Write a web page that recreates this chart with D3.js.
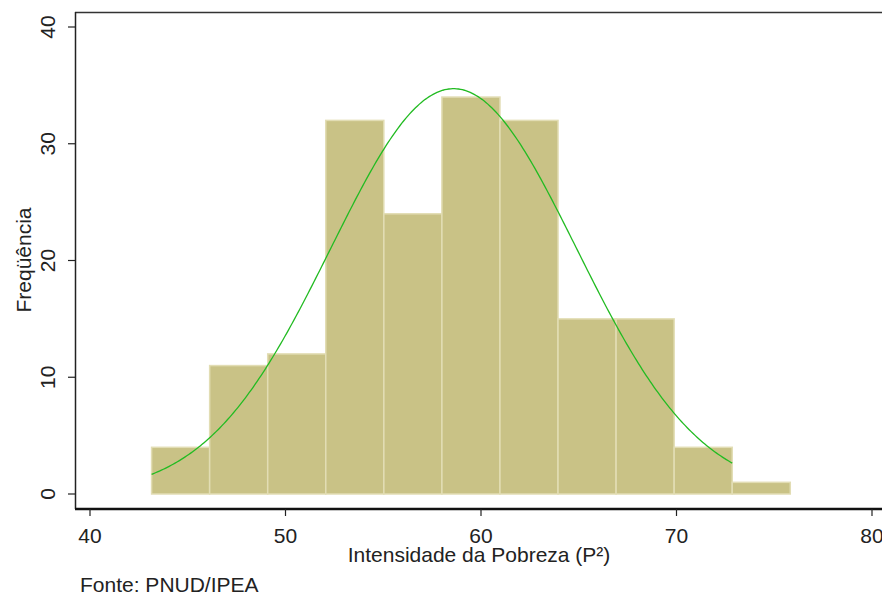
<!DOCTYPE html>
<meta charset="utf-8">
<style>
body { margin: 0; background: #fff; }
text { font-family: "Liberation Sans", Arial, sans-serif; fill: #222; }
</style>
<svg width="882" height="594"></svg>
<script src="https://d3js.org/d3.v7.min.js"></script>
<script>

// histogram bins (lower edge, count)
var binStart = 43.15,
    binWidth = 2.97;
var counts = [4, 11, 12, 32, 24, 34, 32, 15, 15, 4, 1];
var xTicks = [40, 50, 60, 70, 80];
var yTicks = [0, 10, 20, 30, 40];
// fitted normal curve
var normMean = 58.6, normSd = 6.28, normFrom = 43.15, normTo = 72.9;

var svg = d3.select("svg");

var x = d3.scaleLinear().domain([40, 80]).range([90, 872]);
var y = d3.scaleLinear().domain([0, 40]).range([494, 27]);

var bins = counts.map(function(c, i) {
  return { x0: binStart + i * binWidth, x1: binStart + (i + 1) * binWidth, n: c };
});

svg.append("g")
  .selectAll("rect")
  .data(bins)
  .enter().append("rect")
    .attr("x", function(d) { return x(d.x0); })
    .attr("y", function(d) { return y(d.n); })
    .attr("width", function(d) { return x(d.x1) - x(d.x0); })
    .attr("height", function(d) { return y(0) - y(d.n); })
    .attr("fill", "#c9c286")
    .attr("stroke", "#e2ddb4")
    .attr("stroke-width", 1.5);

var total = d3.sum(counts);
var curve = d3.range(normFrom, normTo + 0.001, 0.1).map(function(v) {
  var z = (v - normMean) / normSd;
  return [v, total * binWidth * Math.exp(-z * z / 2) / (normSd * Math.sqrt(2 * Math.PI))];
});

svg.append("path")
  .datum(curve)
  .attr("fill", "none")
  .attr("stroke", "#22bb22")
  .attr("stroke-width", 1.3)
  .attr("d", d3.line()
    .x(function(d) { return x(d[0]); })
    .y(function(d) { return y(d[1]); }));

// frame: top and left
svg.append("line").attr("x1", 75).attr("x2", 882).attr("y1", 12.5).attr("y2", 12.5)
  .attr("stroke", "#333").attr("stroke-width", 1.5);
svg.append("line").attr("x1", 75.5).attr("x2", 75.5).attr("y1", 12).attr("y2", 509)
  .attr("stroke", "#222").attr("stroke-width", 1.5);

// x axis
var xAxis = svg.append("g").attr("transform", "translate(0,509)");
xAxis.append("line").attr("x1", 75).attr("x2", 882).attr("stroke", "#111").attr("stroke-width", 2.5);
xAxis.selectAll(".tick")
  .data(xTicks)
  .enter().append("line")
    .attr("x1", function(d) { return x(d); })
    .attr("x2", function(d) { return x(d); })
    .attr("y1", 0).attr("y2", 7)
    .attr("stroke", "#222").attr("stroke-width", 1.2);
xAxis.selectAll("text")
  .data(xTicks)
  .enter().append("text")
    .attr("x", function(d) { return x(d); })
    .attr("y", 34)
    .attr("text-anchor", "middle")
    .style("font-size", "21px")
    .text(function(d) { return d; });

// y axis
var yAxis = svg.append("g");
yAxis.selectAll("line")
  .data(yTicks)
  .enter().append("line")
    .attr("x1", 68).attr("x2", 75)
    .attr("y1", function(d) { return y(d); })
    .attr("y2", function(d) { return y(d); })
    .attr("stroke", "#222").attr("stroke-width", 1.2);
yAxis.selectAll("text")
  .data(yTicks)
  .enter().append("text")
    .attr("transform", function(d) { return "translate(55," + y(d) + ") rotate(-90)"; })
    .attr("text-anchor", "middle")
    .style("font-size", "21px")
    .text(function(d) { return d; });

svg.append("text")
  .attr("transform", "translate(31,260) rotate(-90)")
  .attr("text-anchor", "middle")
  .style("font-size", "21px")
  .text("Freqüência");

svg.append("text")
  .attr("x", 479).attr("y", 562)
  .attr("text-anchor", "middle")
  .style("font-size", "21px")
  .text("Intensidade da Pobreza (P²)");

svg.append("text")
  .attr("x", 80).attr("y", 592)
  .style("font-size", "21px")
  .text("Fonte: PNUD/IPEA");

</script>
